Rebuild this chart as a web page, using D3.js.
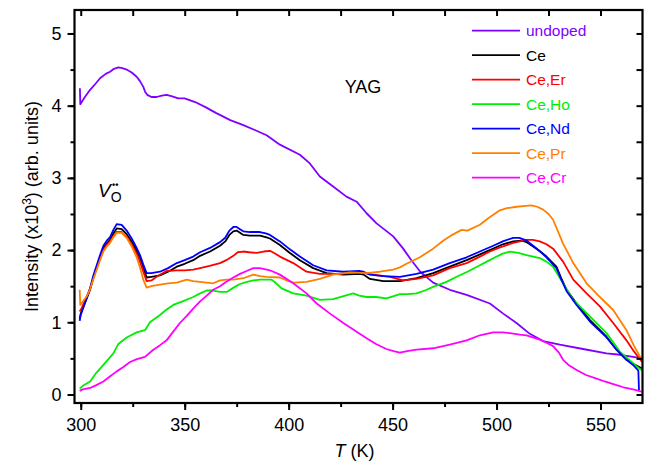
<!DOCTYPE html>
<html>
<head>
<meta charset="utf-8">
<script src="https://cdn.jsdelivr.net/npm/d3@7"></script>
<style>
  html, body { margin: 0; padding: 0; background: #fff; }
  svg { display: block; font-family: "Liberation Sans", Arial, sans-serif; }
</style>
</head>
<body>
<svg id="chart" width="654" height="462"></svg>
<script>
// Thermoluminescence glow curves of YAG samples, intensity vs temperature
const seriesNames = ["undoped", "Ce", "Ce,Er", "Ce,Ho", "Ce,Nd", "Ce,Pr", "Ce,Cr"];
const seriesColors = ["#8000ff", "#000000", "#ff0000", "#00ee00", "#0000ff", "#ff8000", "#ff00ff"];

const xTicks = [300, 350, 400, 450, 500, 550];
const yTicks = [0, 1, 2, 3, 4, 5];

// [T (K), intensity (x10^3)]
const undoped = [[299.6,4.24],[299.8,4.02],[302,4.12],[304.5,4.22],[307,4.30],[309.3,4.38],[312,4.44],[314.1,4.47],[316,4.51],[318.1,4.53],[320,4.52],[322.1,4.50],[324.5,4.46],[326.9,4.40],[328.5,4.34],[330.1,4.26],[331,4.19],[332,4.15],[334,4.12],[336.5,4.12],[339,4.14],[341.3,4.15],[344,4.13],[346.9,4.10],[350,4.10],[355,4.05],[360,3.98],[365,3.90],[371.9,3.80],[378.2,3.73],[384,3.66],[389.4,3.59],[395.8,3.46],[405.4,3.32],[410.2,3.20],[415,3.02],[421.4,2.88],[427.8,2.74],[432.7,2.67],[437.5,2.51],[442.3,2.37],[450.3,2.19],[455.1,2.02],[458.5,1.88],[463.3,1.70],[469.5,1.55],[477.5,1.45],[485.6,1.38],[496.8,1.26],[503.2,1.12],[509.6,0.99],[516,0.84],[522.4,0.74],[530.4,0.69],[541.6,0.63],[552.9,0.57],[559.4,0.55],[565.7,0.52],[570,0.50]];

const ce = [[299.5,1.05],[300,1.12],[302.9,1.33],[304.5,1.45],[306.1,1.62],[309.3,1.90],[310.9,2.03],[312.5,2.09],[314.1,2.14],[315.7,2.23],[317.3,2.30],[319.7,2.29],[322.1,2.22],[324.5,2.12],[326.9,1.99],[328.5,1.89],[330.1,1.76],[331.7,1.62],[334,1.63],[338.1,1.65],[342,1.70],[346.2,1.77],[350,1.81],[354.1,1.86],[357.4,1.92],[362.2,1.98],[367,2.06],[369.5,2.12],[371.5,2.21],[373.4,2.26],[375,2.27],[376.6,2.24],[378.2,2.21],[381.4,2.20],[386.2,2.20],[389,2.18],[391,2.16],[395.8,2.07],[400.6,1.96],[405.4,1.86],[411.8,1.75],[418.3,1.68],[426.3,1.66],[434.3,1.67],[436,1.66],[439.1,1.60],[445.5,1.57],[453.5,1.57],[461.5,1.61],[469.5,1.68],[477.5,1.77],[485.6,1.86],[492,1.94],[498.4,2.02],[503,2.08],[508,2.12],[512,2.13],[514.5,2.11],[517.6,2.05],[521,1.98],[524,1.91],[528.8,1.77],[531,1.62],[533.7,1.45],[538.5,1.26],[544.9,1.03],[552.9,0.80],[557.7,0.62],[562.5,0.48],[566,0.42],[570,0.36]];

const ceEr = [[299.5,1.15],[300.5,1.20],[302.9,1.36],[304.5,1.47],[306.1,1.62],[309.3,1.88],[310.9,2.00],[312.5,2.07],[314.1,2.12],[315.7,2.19],[317.3,2.25],[319.7,2.25],[322.1,2.18],[324.5,2.08],[326.9,1.95],[328.5,1.84],[330.1,1.70],[331.7,1.57],[334,1.58],[337,1.64],[341.3,1.71],[346,1.72],[350,1.72],[354.1,1.73],[357.4,1.75],[362,1.78],[367,1.82],[370,1.86],[373.4,1.92],[375.5,1.97],[378.2,1.98],[381,1.97],[384.6,1.96],[388,1.98],[391,1.99],[393,1.96],[395.8,1.91],[402.2,1.82],[408.6,1.70],[415,1.67],[424.6,1.67],[432.7,1.70],[436,1.68],[440.7,1.66],[448.7,1.63],[455.1,1.58],[461.5,1.60],[469.5,1.65],[477.5,1.75],[485.6,1.82],[492,1.91],[496.8,1.98],[502,2.04],[508,2.10],[514.4,2.14],[517.5,2.14],[520.8,2.12],[524,2.08],[527.2,2.02],[532,1.84],[536.9,1.59],[543.3,1.40],[549.7,1.22],[556.1,0.99],[562.5,0.75],[566,0.60],[570,0.45]];

const ceHo = [[299.5,0.08],[301,0.12],[304.5,0.18],[307.5,0.30],[310.9,0.41],[313,0.48],[315.7,0.57],[318.1,0.70],[322.1,0.79],[326.9,0.86],[330.9,0.89],[333.3,1.00],[338.1,1.10],[341,1.17],[344.5,1.24],[349,1.29],[354.1,1.35],[357.4,1.40],[360.6,1.44],[363.7,1.44],[367,1.42],[370.2,1.42],[373.5,1.48],[376.6,1.53],[380,1.56],[383,1.58],[386.2,1.59],[391.8,1.59],[394,1.54],[396.6,1.47],[402.2,1.40],[408.6,1.37],[415,1.31],[421.4,1.32],[426,1.36],[431,1.40],[434,1.37],[437.5,1.35],[442,1.35],[447.1,1.33],[453.5,1.39],[457.5,1.39],[461.5,1.40],[465.5,1.44],[469.5,1.49],[475.9,1.56],[480.8,1.63],[486,1.70],[492,1.79],[496,1.85],[500,1.91],[503,1.95],[506.4,1.98],[510.5,1.96],[514.4,1.93],[520.8,1.89],[524,1.84],[527.2,1.77],[532,1.54],[536.9,1.31],[544.9,1.08],[552.9,0.85],[559.4,0.59],[564.2,0.47],[567,0.40],[570,0.33]];

const ceNd = [[299.5,1.02],[300,1.10],[302.9,1.34],[304.5,1.47],[306.1,1.65],[309.3,1.93],[310.9,2.06],[312.5,2.13],[314.1,2.18],[315.7,2.28],[317.3,2.36],[319.7,2.35],[322.1,2.27],[324.5,2.16],[326.9,2.03],[328.5,1.93],[330.1,1.80],[331.7,1.68],[334,1.68],[338.1,1.70],[342,1.75],[346.2,1.82],[350,1.86],[354.1,1.91],[357.4,1.97],[362.2,2.03],[367,2.11],[369.5,2.17],[371.5,2.27],[373.4,2.32],[375,2.32],[376.6,2.29],[378.2,2.26],[381.4,2.25],[386.2,2.25],[389,2.23],[391,2.21],[395.8,2.12],[400.6,2.01],[405.4,1.91],[411.8,1.79],[418.3,1.72],[426.3,1.70],[434.3,1.71],[436,1.70],[439.1,1.66],[445.5,1.64],[453.5,1.63],[461.5,1.67],[469.5,1.73],[477.5,1.82],[485.6,1.90],[492,1.98],[498.4,2.06],[503,2.12],[508,2.17],[511,2.17],[514.5,2.13],[517.6,2.06],[521,1.98],[524,1.90],[528.8,1.75],[531,1.60],[533.7,1.43],[538.5,1.24],[544.9,1.01],[552.9,0.79],[557.7,0.62],[562.5,0.48],[566,0.40],[568.2,0.33],[568.5,0.06]];

const cePr = [[299.5,1.45],[299.8,1.24],[302.9,1.36],[304.5,1.46],[306.1,1.60],[309.3,1.86],[310.9,1.98],[312.5,2.05],[314.1,2.10],[315.7,2.18],[317.3,2.24],[319.7,2.24],[322.1,2.17],[324.5,2.05],[326.9,1.90],[328.5,1.76],[330.1,1.59],[331.7,1.48],[334,1.50],[338.1,1.52],[342,1.54],[346.2,1.55],[351,1.59],[354,1.57],[357.4,1.56],[363.7,1.54],[367,1.58],[370.2,1.59],[373.4,1.59],[378.2,1.61],[383,1.66],[386.2,1.64],[389.4,1.63],[395.8,1.62],[399,1.58],[402.2,1.55],[408.6,1.56],[415,1.60],[421.4,1.66],[429.5,1.69],[437.5,1.68],[443.9,1.70],[450.3,1.73],[453.5,1.76],[456.7,1.81],[463.1,1.90],[469.5,2.02],[474.3,2.13],[478,2.20],[483.2,2.28],[486,2.27],[492,2.35],[496,2.44],[501.6,2.55],[505,2.58],[509.6,2.60],[513,2.61],[516.8,2.62],[519.5,2.60],[522.4,2.56],[525,2.50],[527.2,2.42],[532,2.09],[536.9,1.82],[543.3,1.54],[549.7,1.35],[556.1,1.17],[562.5,0.89],[566,0.68],[570,0.47]];

const ceCr = [[299.5,0.05],[301,0.07],[304.5,0.09],[307.5,0.13],[310.9,0.18],[314,0.25],[317.3,0.32],[320.5,0.38],[323.7,0.45],[327,0.49],[330.9,0.52],[334.9,0.62],[338,0.68],[341.3,0.75],[344.5,0.87],[347.7,0.99],[351,1.09],[354.1,1.19],[357.4,1.29],[360.6,1.37],[363.7,1.45],[367,1.50],[370,1.56],[373.4,1.62],[376.6,1.67],[379.8,1.71],[383,1.75],[386.2,1.75],[391,1.72],[395.8,1.66],[402.2,1.54],[408.6,1.40],[413.5,1.26],[419.9,1.12],[426.3,0.99],[432.7,0.87],[437.5,0.78],[442,0.70],[447,0.63],[450.5,0.60],[453.5,0.58],[457,0.60],[461.5,0.62],[469.5,0.64],[477.5,0.69],[485.6,0.75],[492,0.82],[498.4,0.86],[503,0.86],[506.4,0.85],[511.2,0.83],[514.4,0.82],[520.8,0.76],[524.5,0.71],[527.2,0.67],[530,0.58],[532,0.48],[535,0.40],[538.5,0.34],[543,0.27],[548.1,0.22],[552,0.18],[557.7,0.13],[561,0.10],[565.7,0.07],[569.7,0.04]];

const seriesData = [undoped, ce, ceEr, ceHo, ceNd, cePr, ceCr];

const svg = d3.select("#chart");
const plot = { left: 74.5, right: 642.5, top: 10, bottom: 403 };

const x = d3.scaleLinear().domain([297, 570.2]).range([plot.left, plot.right]);
const y = d3.scaleLinear().domain([-0.118, 5.325]).range([plot.bottom, plot.top]);

// curves, clipped to the frame
svg.append("clipPath").attr("id", "clip")
  .append("rect").attr("x", plot.left).attr("y", plot.top)
  .attr("width", plot.right - plot.left).attr("height", plot.bottom - plot.top);

const line = d3.line().x(d => x(d[0])).y(d => y(d[1]));
const curves = svg.append("g").attr("clip-path", "url(#clip)");
seriesData.forEach((data, i) => {
  curves.append("path")
    .attr("d", line(data))
    .attr("fill", "none")
    .attr("stroke", seriesColors[i])
    .attr("stroke-width", 1.8)
    .attr("stroke-linejoin", "round");
});

// axes: outward ticks on left/bottom, inward mirrors on top/right
const xMinor = d3.range(300, 571, 25);
const yMinor = d3.range(0, 5.01, 0.5);
const tickFont = 18;

function styleAxis(g) {
  g.select(".domain").remove();
  g.selectAll("line").attr("stroke", "#000").attr("stroke-width", 2);
}

svg.append("g").attr("transform", `translate(0,${plot.bottom})`)
  .call(d3.axisBottom(x).tickValues(xMinor).tickSize(4).tickFormat(""))
  .call(styleAxis);
svg.append("g").attr("transform", `translate(0,${plot.bottom})`)
  .call(d3.axisBottom(x).tickValues(xTicks).tickSize(7).tickPadding(8).tickFormat(d3.format("d")))
  .call(styleAxis)
  .call(g => g.selectAll("text").attr("font-size", tickFont).attr("fill", "#000")
    .attr("font-family", "Liberation Sans, Arial, sans-serif"));

svg.append("g").attr("transform", `translate(0,${plot.top})`)
  .call(d3.axisBottom(x).tickValues(xMinor).tickSize(6).tickFormat(""))
  .call(styleAxis);

svg.append("g").attr("transform", `translate(${plot.left},0)`)
  .call(d3.axisLeft(y).tickValues(yMinor).tickSize(4).tickFormat(""))
  .call(styleAxis);
svg.append("g").attr("transform", `translate(${plot.left},0)`)
  .call(d3.axisLeft(y).tickValues(yTicks).tickSize(7).tickPadding(6).tickFormat(d3.format("d")))
  .call(styleAxis)
  .call(g => g.selectAll("text").attr("font-size", tickFont).attr("fill", "#000")
    .attr("font-family", "Liberation Sans, Arial, sans-serif"));

svg.append("g").attr("transform", `translate(${plot.right},0)`)
  .call(d3.axisLeft(y).tickValues(yMinor).tickSize(6).tickFormat(""))
  .call(styleAxis);

// frame
svg.append("rect")
  .attr("x", plot.left).attr("y", plot.top)
  .attr("width", plot.right - plot.left).attr("height", plot.bottom - plot.top)
  .attr("fill", "none").attr("stroke", "#000").attr("stroke-width", 2.2);

// axis titles
const xTitle = svg.append("text")
  .attr("x", (plot.left + plot.right) / 2 - 4).attr("y", 457)
  .attr("text-anchor", "middle").attr("font-size", 18).attr("fill", "#000");
xTitle.append("tspan").attr("font-style", "italic").text("T");
xTitle.append("tspan").text(" (K)");

const yTitle = svg.append("text")
  .attr("transform", `translate(38,${(plot.top + plot.bottom) / 2}) rotate(-90)`)
  .attr("text-anchor", "middle").attr("font-size", 18).attr("fill", "#000");
yTitle.append("tspan").text("Intensity (x10");
yTitle.append("tspan").attr("font-size", 12).attr("dy", -7).text("3");
yTitle.append("tspan").attr("dy", 7).text(") (arb. units)");

// annotations
svg.append("text").attr("x", 363).attr("y", 93).attr("text-anchor", "middle")
  .attr("font-size", 18).attr("fill", "#000").text("YAG");

const vo = svg.append("text").attr("x", 98).attr("y", 197).attr("font-size", 19).attr("fill", "#000");
vo.append("tspan").attr("font-style", "italic").text("V");
vo.append("tspan").attr("font-size", 14).attr("dy", 5).text("O");
svg.append("text").attr("x", 112).attr("y", 188).attr("font-size", 9)
  .attr("font-weight", "bold").attr("fill", "#000").text("••");

// legend
const legend = svg.append("g");
seriesNames.forEach((name, i) => {
  const ly = 30.7 + i * 24.5;
  legend.append("line").attr("x1", 472).attr("x2", 520).attr("y1", ly).attr("y2", ly)
    .attr("stroke", seriesColors[i]).attr("stroke-width", 1.8);
  legend.append("text").attr("x", 526).attr("y", ly).attr("dy", "0.35em")
    .attr("font-size", 15.5).attr("fill", seriesColors[i]).text(name);
});
</script>
</body>
</html>
